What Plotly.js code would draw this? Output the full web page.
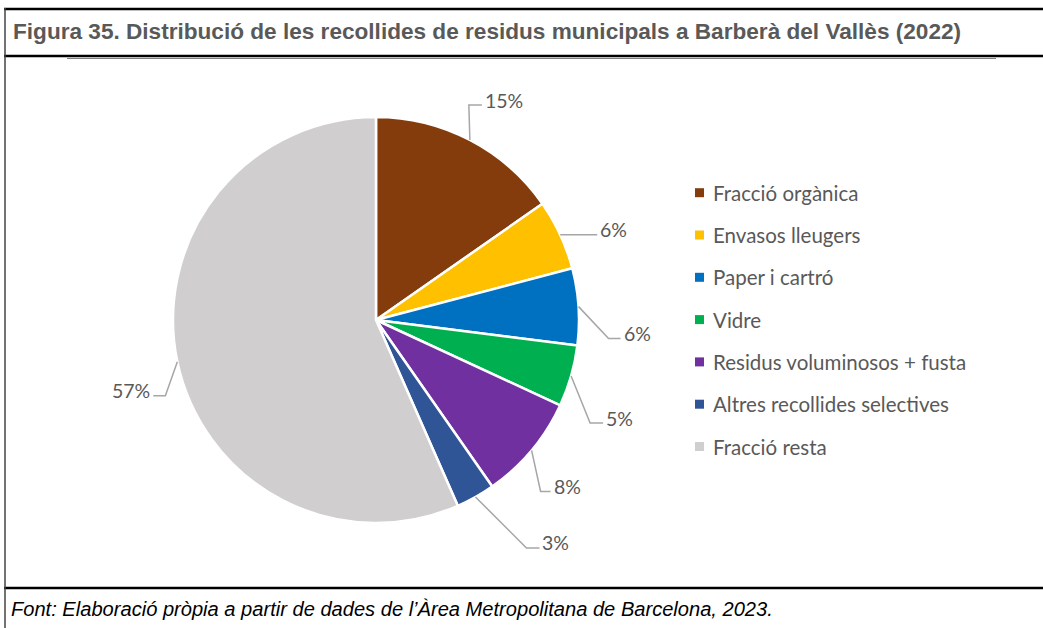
<!DOCTYPE html>
<html>
<head>
<meta charset="utf-8">
<script src="https://cdn.plot.ly/plotly-3.0.1.min.js"></script>
<style>html,body{margin:0;padding:0;background:#fff;}#chart{width:1043px;height:628px;}</style>
</head>
<body>
<div id="chart"></div>
<script>
// ---- data ----
const categories = ["Fracció orgànica", "Envasos lleugers", "Paper i cartró", "Vidre",
  "Residus voluminosos + fusta", "Altres recollides selectives", "Fracció resta"];
const shares = [15.3, 5.6, 6.1, 4.9, 8.4, 3.1, 56.6];
const colors = ["#843C0C", "#FFC000", "#0070C0", "#00B050", "#7030A0", "#2F5597", "#D0CECE"];
const titleText = "Figura 35. Distribució de les recollides de residus municipals a Barberà del Vallès (2022)";
const sourceText = "Font: Elaboració pròpia a partir de dades de l’Àrea Metropolitana de Barcelona, 2023.";

// ---- layout constants (pixels) ----
const W = 1043, H = 628;
const cx = 376, cy = 320, R = 203;
// leader elbow offsets from slice edge [dx, dy, horizontal length]
const leaderOffsets = [[-1, -35, 13], [0, 0, 37], [30, 32, 12], [19, 47, 13], [9, 41, 10], [51, 51, 13], [-12, 34, -12]];
const legendX = 695, legendTextX = 713, legendY0 = 192.7, legendStep = 42.3, sw = 9;

const px = x => x / W;
const py = y => 1 - y / H;

const shapes = [];
const annotations = [];

// frame lines
shapes.push({type: 'line', xref: 'paper', yref: 'paper', x0: px(4), x1: px(W), y0: py(9), y1: py(9), line: {color: '#000', width: 2.5}});
shapes.push({type: 'line', xref: 'paper', yref: 'paper', x0: px(4), x1: px(W), y0: py(56), y1: py(56), line: {color: '#000', width: 2.5}});
shapes.push({type: 'line', xref: 'paper', yref: 'paper', x0: px(67), x1: px(996), y0: py(58.5), y1: py(58.5), line: {color: '#7f7f7f', width: 1}});
shapes.push({type: 'line', xref: 'paper', yref: 'paper', x0: px(4), x1: px(W), y0: py(588), y1: py(588), line: {color: '#000', width: 2.5}});
shapes.push({type: 'line', xref: 'paper', yref: 'paper', x0: px(5), x1: px(5), y0: py(8), y1: py(H), line: {color: '#444', width: 1.5}});

annotations.push({xref: 'paper', yref: 'paper', x: px(11), y: py(31), xanchor: 'left', yanchor: 'middle', showarrow: false,
  text: '<b>' + titleText + '</b>', font: {family: 'Liberation Sans, Arial, sans-serif', size: 22.6, color: '#595959'}});
annotations.push({xref: 'paper', yref: 'paper', x: px(9), y: py(609), xanchor: 'left', yanchor: 'middle', showarrow: false,
  text: '<i>' + sourceText + '</i>', font: {family: 'Liberation Sans, Arial, sans-serif', size: 20.1, color: '#000'}});

// percentage labels with leader lines, computed from the data
const total = shares.reduce((a, b) => a + b, 0);
let cum = 0;
shares.forEach((v, i) => {
  const mid = (cum + v / 2) / total * 2 * Math.PI;
  cum += v;
  const ex = cx + R * Math.sin(mid), ey = cy - R * Math.cos(mid);
  const o = leaderOffsets[i];
  const bx = ex + o[0], by = ey + o[1];
  const hx = bx + o[2];
  shapes.push({type: 'path', xref: 'paper', yref: 'paper',
    path: `M ${px(ex)},${py(ey)} L ${px(bx)},${py(by)} L ${px(hx)},${py(by)}`,
    line: {color: '#a6a6a6', width: 1.5}});
  const right = o[2] >= 0;
  annotations.push({xref: 'paper', yref: 'paper', x: px(hx + (right ? 1 : -1)), y: py(by - 5),
    xanchor: right ? 'left' : 'right', yanchor: 'middle', showarrow: false,
    text: Math.round(v / total * 100) + '%', font: {family: 'Lato, Carlito, sans-serif', size: 19.5, color: '#595959'}});
});

// legend
categories.forEach((c, i) => {
  const yy = legendY0 + i * legendStep;
  shapes.push({type: 'rect', xref: 'paper', yref: 'paper', x0: px(legendX), x1: px(legendX + sw),
    y0: py(yy - sw / 2), y1: py(yy + sw / 2), fillcolor: colors[i], line: {width: 0}});
  annotations.push({xref: 'paper', yref: 'paper', x: px(legendTextX - 2), y: py(yy), xanchor: 'left', yanchor: 'middle',
    showarrow: false, text: c, font: {family: 'Lato, Carlito, sans-serif', size: 20.5, color: '#595959'}});
});

const trace = {
  type: 'pie', labels: categories, values: shares, sort: false, direction: 'clockwise', rotation: 0,
  marker: {colors: colors, line: {color: '#ffffff', width: 2.5}},
  textinfo: 'none', hoverinfo: 'label+percent', showlegend: false,
  domain: {x: [px(cx - R), px(cx + R)], y: [py(cy + R), py(cy - R)]}
};

const layout = {
  width: W, height: H, margin: {l: 0, r: 0, t: 0, b: 0},
  paper_bgcolor: '#fff', plot_bgcolor: '#fff', showlegend: false,
  shapes: shapes, annotations: annotations
};
Plotly.newPlot('chart', [trace], layout, {displayModeBar: false, staticPlot: true});
</script>
</body>
</html>
